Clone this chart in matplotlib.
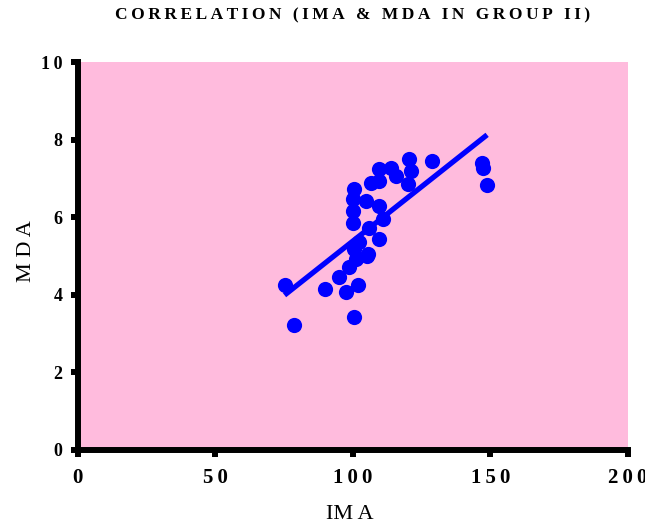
import numpy as np
from matplotlib import pyplot as plt

# IMA vs MDA values, group II
ima = [75.2, 78.5, 89.8, 100.5, 95.0, 97.5, 101.8, 98.7, 101.2, 105.0, 100.5, 102.4,
       105.4, 109.7, 106.0, 99.9, 111.0, 109.7, 99.9, 104.8, 99.9, 100.5, 106.7, 109.7,
       109.7, 114.0, 115.8, 120.5, 121.3, 120.1, 128.7, 147.0, 147.4, 148.8]
mda = [4.24, 3.23, 4.15, 3.43, 4.45, 4.07, 4.24, 4.71, 4.92, 5.00, 5.18, 5.35,
       5.05, 5.44, 5.73, 5.86, 5.95, 6.29, 6.16, 6.42, 6.46, 6.72, 6.89, 6.93,
       7.23, 7.27, 7.06, 7.49, 7.19, 6.85, 7.44, 7.40, 7.27, 6.83]

xticks = [0, 50, 100, 150, 200]
yticks = [0, 2, 4, 6, 8, 10]

def spaced(s):
    # wide letter spacing like the old chart software
    return '\u2009'.join(s)

plt.rcParams['font.family'] = ['Liberation Serif', 'DejaVu Serif']

fig = plt.figure(figsize=(6.45, 5.26), dpi=100)
ax = fig.add_axes([0.1202, 0.1445, 0.8535, 0.7376])
ax.set_facecolor('#ffbbdd')

x = np.array(ima)
y = np.array(mda)
slope, icpt = np.polyfit(x, y, 1)
xl = np.array([x.min(), x.max()])
ax.plot(xl, slope * xl + icpt, color='#0000ff', lw=3.8, solid_capstyle='butt', zorder=2)
ax.scatter(x, y, s=120, color='#0000ff', zorder=3, linewidths=0)

ax.set_xlim(0, 200)
ax.set_ylim(0, 10)
ax.set_xticks(xticks)
ax.set_yticks(yticks)
ax.set_xticklabels([spaced(str(t)) for t in xticks], fontsize=15, fontweight='bold')
ax.set_yticklabels([spaced(str(t)) for t in yticks], fontsize=13, fontweight='bold')
ax.tick_params(direction='out', length=5, width=4.3)
ax.tick_params(axis='x', pad=8)
ax.tick_params(axis='y', pad=6)

for side in ['top', 'right']:
    ax.spines[side].set_visible(False)
for side in ['left', 'bottom']:
    ax.spines[side].set_linewidth(4.3)

ax.set_xlabel('IM A', fontsize=16)
ax.set_ylabel('M D A', fontsize=16)
ax.xaxis.set_label_coords(0.494, -0.1675)
ax.yaxis.set_label_coords(-0.0935, 0.512)
ax.xaxis.label.set_va('center')
ax.yaxis.label.set_va('center')

fig.text(0.546, 0.970, spaced('CORRELATION (IMA & MDA IN GROUP II)'),
         ha='center', va='center', fontsize=12.5, fontweight='bold')

fig.savefig('out.png', dpi=100)
